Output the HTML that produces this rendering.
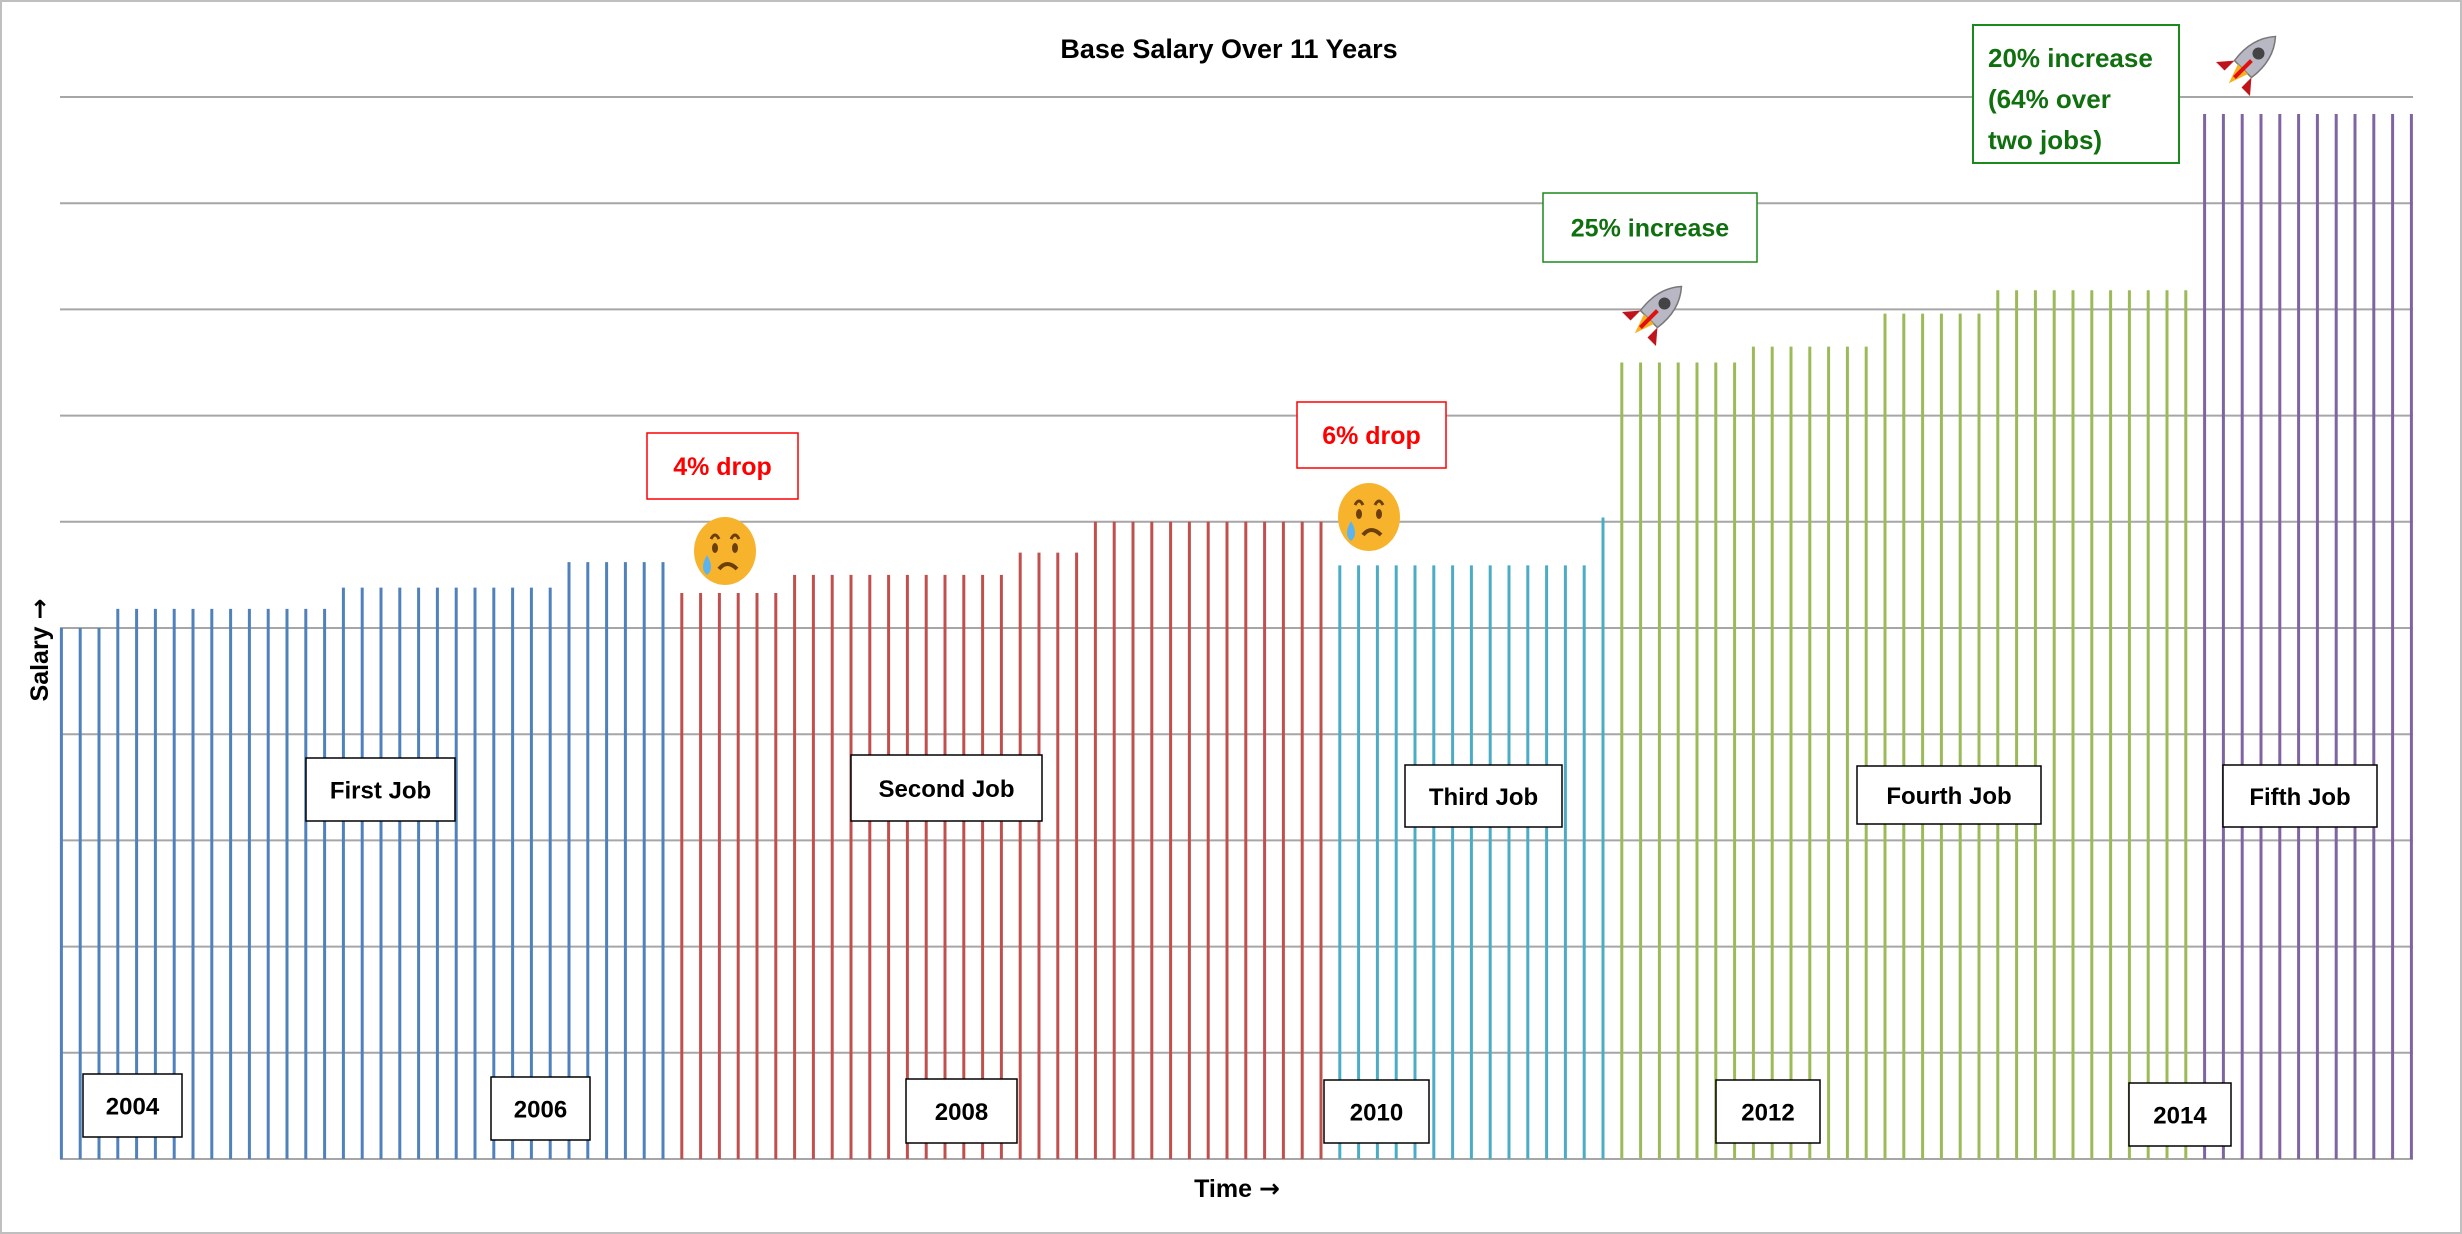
<!DOCTYPE html>
<html><head><meta charset="utf-8"><style>
html,body{margin:0;padding:0;background:#fff}
svg{display:block;font-family:"Liberation Sans",sans-serif}
</style></head><body>
<svg id="chart" width="2462" height="1234" viewBox="0 0 2462 1234">
<rect x="1" y="1" width="2460" height="1232" fill="#fff" stroke="#bfbfbf" stroke-width="2"/>
<g id="grid"></g>
<g id="bars"></g>
<text x="1229" y="58" text-anchor="middle" font-size="27" font-weight="bold">Base Salary Over 11 Years</text>
<text transform="translate(48,650) rotate(-90)" text-anchor="middle" font-size="25" font-weight="bold">Salary <tspan font-family="DejaVu Sans">→</tspan></text>
<text x="1237" y="1197" text-anchor="middle" font-size="25" font-weight="bold">Time <tspan font-family="DejaVu Sans">→</tspan></text>
<g id="labels" font-size="24" font-weight="bold" text-anchor="middle"></g>
<g transform="translate(725,551)">
<ellipse rx="31" ry="34" fill="#f7b32b"/><path d="M-14,-12 q4,-8 8,0 M6,-12 q4,-8 8,0" stroke="#6b3e0a" stroke-width="3" fill="none"/>
<ellipse cx="-10" cy="-3" rx="3" ry="5" fill="#6b3e0a"/><ellipse cx="10" cy="-3" rx="3" ry="5" fill="#6b3e0a"/>
<path d="M-6,18 q8,-10 18,0" stroke="#6b3e0a" stroke-width="4" fill="none"/><path d="M-18,4 q-8,14 0,20 q8,-6 0,-20z" fill="#5bb4f0"/></g>
<g transform="translate(1369,517)">
<ellipse rx="31" ry="34" fill="#f7b32b"/><path d="M-14,-12 q4,-8 8,0 M6,-12 q4,-8 8,0" stroke="#6b3e0a" stroke-width="3" fill="none"/>
<ellipse cx="-10" cy="-3" rx="3" ry="5" fill="#6b3e0a"/><ellipse cx="10" cy="-3" rx="3" ry="5" fill="#6b3e0a"/>
<path d="M-6,18 q8,-10 18,0" stroke="#6b3e0a" stroke-width="4" fill="none"/><path d="M-18,4 q-8,14 0,20 q8,-6 0,-20z" fill="#5bb4f0"/></g>
<g transform="translate(1656,312) rotate(45)">
<path d="M-12,10 l-12,14 l12,0z M12,10 l12,14 l-12,0z" fill="#c0141a"/><path d="M0,-36 q16,18 12,46 l-24,0 q-4,-28 12,-46z" fill="#b8b8c4" stroke="#777" stroke-width="1.5"/>
<circle cy="-12" r="6" fill="#444"/><path d="M-7,10 l14,0 l-7,20z" fill="#f8b020"/><rect x="-2" y="-2" width="4" height="24" fill="#e01010"/></g>
<g transform="translate(2250,62) rotate(45)">
<path d="M-12,10 l-12,14 l12,0z M12,10 l12,14 l-12,0z" fill="#c0141a"/><path d="M0,-36 q16,18 12,46 l-24,0 q-4,-28 12,-46z" fill="#b8b8c4" stroke="#777" stroke-width="1.5"/>
<circle cy="-12" r="6" fill="#444"/><path d="M-7,10 l14,0 l-7,20z" fill="#f8b020"/><rect x="-2" y="-2" width="4" height="24" fill="#e01010"/></g>
</svg>
<script>
// values in grid units (0..10)
const blueVals = [5,5,5, 5.18,5.18,5.18,5.18,5.18,5.18,5.18,5.18,5.18,5.18,5.18,5.18, 5.38,5.38,5.38,5.38,5.38,5.38,5.38,5.38,5.38,5.38,5.38,5.38, 5.62,5.62,5.62,5.62,5.62,5.62];
const redVals = [5.33,5.33,5.33,5.33,5.33,5.33, 5.5,5.5,5.5,5.5,5.5,5.5,5.5,5.5,5.5,5.5,5.5,5.5, 5.71,5.71,5.71,5.71, 6,6,6,6,6,6,6,6,6,6,6,6,6];
const cyanVals = [5.59,5.59,5.59,5.59,5.59,5.59,5.59,5.59,5.59,5.59,5.59,5.59,5.59,5.59, 6.04];
const greenVals = [7.5,7.5,7.5,7.5,7.5,7.5,7.5, 7.65,7.65,7.65,7.65,7.65,7.65,7.65, 7.96,7.96,7.96,7.96,7.96,7.96, 8.18,8.18,8.18,8.18,8.18,8.18,8.18,8.18,8.18,8.18,8.18];
const purpleVals = [9.84,9.84,9.84,9.84,9.84,9.84,9.84,9.84,9.84,9.84,9.84,9.84];
const seriesColors = ['#4f81bd','#c0504d','#4bacc6','#9bbb59','#8064a2'];
const gridTicks = [0,1,2,3,4,5,6,7,8,9,10];

const NS='http://www.w3.org/2000/svg';
const x0=61.4, dx=18.8, yBase=1159, yTop=97, yMax=10;
const xScale=i=>x0+i*dx;
const yScale=v=>yBase-(v/yMax)*(yBase-yTop);
const grid=document.getElementById('grid');
gridTicks.forEach(t=>{
  const l=document.createElementNS(NS,'line');
  l.setAttribute('x1',60);l.setAttribute('x2',2413);
  l.setAttribute('y1',yScale(t));l.setAttribute('y2',yScale(t));
  l.setAttribute('stroke','#a6a6a6');l.setAttribute('stroke-width',2);
  
  
  grid.appendChild(l);
});
const bars=document.getElementById('bars');
let idx=0;
[blueVals,redVals,cyanVals,greenVals,purpleVals].forEach((arr,s)=>{
  arr.forEach(v=>{
    const l=document.createElementNS(NS,'line');
    const x=xScale(idx);
    l.setAttribute('x1',x);l.setAttribute('x2',x);
    l.setAttribute('y1',yBase);l.setAttribute('y2',yScale(v));
    l.setAttribute('stroke',seriesColors[s]);l.setAttribute('stroke-width',3);
    
    
    bars.appendChild(l);
    idx++;
  });
});
const boxes=[
 ['2004',83,1074,182,1137,'#000','#000','year-label-2004'],
 ['2006',491,1077,590,1140,'#000','#000','year-label-2006'],
 ['2008',906,1079,1017,1143,'#000','#000','year-label-2008'],
 ['2010',1324,1080,1429,1143,'#000','#000','year-label-2010'],
 ['2012',1716,1080,1820,1143,'#000','#000','year-label-2012'],
 ['2014',2129,1083,2231,1146,'#000','#000','year-label-2014'],
 ['First Job',306,758,455,821,'#000','#000','first-job-label'],
 ['Second Job',851,755,1042,821,'#000','#000','second-job-label'],
 ['Third Job',1405,765,1562,827,'#000','#000','third-job-label'],
 ['Fourth Job',1857,766,2041,824,'#000','#000','fourth-job-label'],
 ['Fifth Job',2223,765,2377,827,'#000','#000','fifth-job-label'],
 ['4% drop',647,433,798,499,'#ff0000','#ff0000','drop-4-annotation'],
 ['6% drop',1297,402,1446,468,'#ff0000','#ff0000','drop-6-annotation'],
 ['25% increase',1543,193,1757,262,'#1a8a1a','#107010','increase-25-annotation']
];
const lg=document.getElementById('labels');
boxes.forEach(b=>{
  const g=document.createElementNS(NS,'g');
  
  
  const r=document.createElementNS(NS,'rect');
  r.setAttribute('x',b[1]);r.setAttribute('y',b[2]);r.setAttribute('width',b[3]-b[1]);r.setAttribute('height',b[4]-b[2]);
  r.setAttribute('fill','#fff');r.setAttribute('stroke',b[5]);r.setAttribute('stroke-width',1.5);
  g.appendChild(r);
  const t=document.createElementNS(NS,'text');
  t.setAttribute('x',(b[1]+b[3])/2);t.setAttribute('y',(b[2]+b[4])/2+9);
  t.setAttribute('fill',b[6]);
  if(b[6]!=='#000') t.setAttribute('font-size','25');
  t.textContent=b[0];
  g.appendChild(t);
  lg.appendChild(g);
});
</script>
<div style="position:absolute;left:1972px;top:24px;width:208px;height:140px;border:2px solid #1a8a1a;background:#fff;box-sizing:border-box;padding:12px 0 0 14px;font:bold 26px/41px 'Liberation Sans',sans-serif;color:#107010">20% increase<br>(64% over<br>two jobs)</div>
</body></html>
